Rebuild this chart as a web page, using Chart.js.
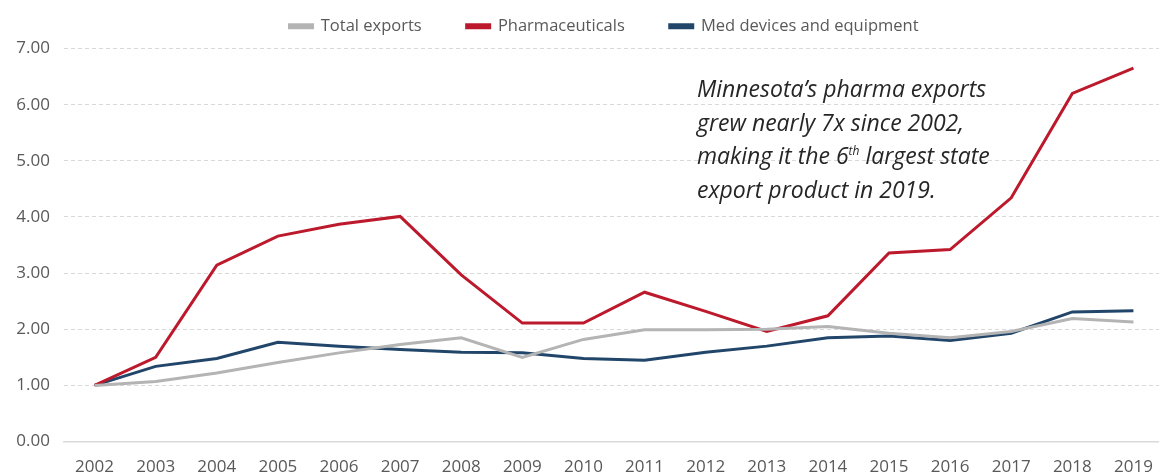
<!DOCTYPE html>
<html>
<head>
<meta charset="utf-8">
<script src="https://cdn.jsdelivr.net/npm/chart.js@4/dist/chart.umd.min.js"></script>
<style>
  html, body { margin: 0; padding: 0; background: #fff; overflow: hidden; }
  #wrap { position: relative; width: 1168px; height: 476px; }
  #note {
    position: absolute; left: 697px; top: 72px;
    font-family: "Open Sans", Lato, sans-serif; font-style: italic;
    font-size: 23px; line-height: 33.5px; color: #262626;
  }
  #note sup { font-size: 12px; line-height: 0; }
</style>
</head>
<body>
<div id="wrap">
  <canvas id="chart" width="1168" height="476"></canvas>
  <div id="note">Minnesota’s pharma exports<br>grew nearly 7x since 2002,<br>making it the 6<sup>th</sup> largest state<br>export product in 2019.</div>
</div>
<script>
// Export growth index, 2002 = 1.00
const years = ['2002', '2003', '2004', '2005', '2006', '2007', '2008', '2009', '2010',
               '2011', '2012', '2013', '2014', '2015', '2016', '2017', '2018', '2019'];
const totalExports = [1.00, 1.07, 1.22, 1.41, 1.58, 1.73, 1.85, 1.50, 1.82,
                      1.99, 1.99, 2.00, 2.05, 1.93, 1.85, 1.96, 2.19, 2.13];
const pharma = [1.00, 1.50, 3.14, 3.66, 3.87, 4.01, 2.97, 2.11, 2.11,
                2.66, 2.32, 1.96, 2.24, 3.36, 3.42, 4.34, 6.20, 6.65];
const medDevices = [1.00, 1.34, 1.48, 1.77, 1.70, 1.64, 1.59, 1.58, 1.48,
                    1.45, 1.59, 1.70, 1.85, 1.88, 1.80, 1.93, 2.31, 2.33];

const FONT = '"Open Sans", Lato, sans-serif';
const TEXT = '#595959';
const GRID = '#d9d9d9';

function series(label, color, data) {
  return {
    label, data,
    borderColor: color,
    backgroundColor: color,
    borderWidth: 3,
    pointRadius: 0,
    tension: 0,
    fill: false
  };
}

// legend: a little extra room below the row, and shifted right of centre
const legendTweaks = {
  id: 'legendTweaks',
  beforeLayout(chart) {
    const lg = chart.legend;
    if (lg && !lg._extraFit) {
      const fit = lg.fit.bind(lg);
      lg.fit = function () { fit(); this.height += 4; };
      lg._extraFit = true;
    }
  },
  afterLayout(chart) {
    chart.legend.left += 22;
    chart.legend.right += 22;
  }
};

new Chart(document.getElementById('chart'), {
  type: 'line',
  data: {
    labels: years,
    datasets: [
      series('Total exports', '#b4b4b4', totalExports),
      series('Pharmaceuticals', '#bc1a2c', pharma),
      series('Med devices and equipment', '#22466a', medDevices)
    ]
  },
  plugins: [legendTweaks],
  options: {
    responsive: false,
    animation: false,
    layout: { padding: { top: -27, right: 4, bottom: -16, left: 0 } },
    plugins: {
      legend: {
        display: true,
        position: 'top',
        labels: {
          color: TEXT,
          font: { family: FONT, size: 16.5 },
          boxWidth: 23,
          boxHeight: 3,
          padding: 45
        }
      },
      tooltip: { enabled: false }
    },
    scales: {
      x: {
        offset: true,
        grid: { display: false, drawTicks: false },
        border: { display: true, color: GRID, width: 1.5 },
        ticks: {
          color: TEXT,
          font: { family: FONT, size: 17 },
          padding: 15,
          maxRotation: 0,
          autoSkip: false
        }
      },
      y: {
        min: 0,
        max: 7,
        afterFit: s => { s.width = 64; },
        grid: {
          drawTicks: false,
          color: ctx => ctx.tick && ctx.tick.value === 0 ? 'rgba(0,0,0,0)' : GRID
        },
        border: { display: false, dash: [4, 3] },
        ticks: {
          stepSize: 1,
          color: TEXT,
          font: { family: FONT, size: 17 },
          padding: 14,
          callback: v => Number(v).toFixed(2)
        }
      }
    }
  }
});
</script>
</body>
</html>
